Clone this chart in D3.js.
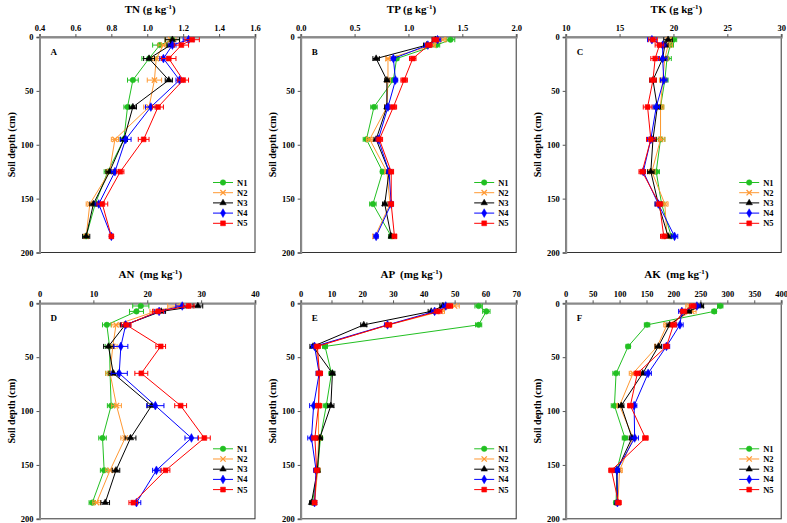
<!DOCTYPE html>
<html>
<head>
<meta charset="utf-8">
<script src="https://cdn.jsdelivr.net/npm/d3@7"></script>
<style>
  body { margin: 0; background: #fff; }
  text { font-family: "Liberation Serif", "Times New Roman", serif; font-weight: bold; }
</style>
</head>
<body>
<div id="chart"></div>
<script>
// depth midpoints (cm) and treatments
const depths = [2.5, 7.5, 20, 40, 65, 95, 125, 155, 185];
const series = ["N1", "N2", "N3", "N4", "N5"];
const colors = ["#22c022", "#ff9933", "#000000", "#0000ff", "#ff0000"];

// TN (g/kg), rows = N1..N5
const tnMean = [
  [1.14, 1.07, 1.01, 0.92, 0.89, 0.87, 0.78, 0.71, 0.66],
  [1.13, 1.09, 1.05, 1.04, 1.01, 0.82, 0.79, 0.68, 0.66],
  [1.14, 1.13, 1.01, 1.12, 0.92, 0.87, 0.79, 0.70, 0.66],
  [1.23, 1.14, 1.09, 1.18, 1.02, 0.88, 0.82, 0.73, 0.80],
  [1.25, 1.19, 1.12, 1.20, 1.06, 0.98, 0.85, 0.75, 0.80]
];
const tnErr = [
  [0.04, 0.04, 0.04, 0.03, 0.02, 0.02, 0.02, 0.01, 0.01],
  [0.03, 0.03, 0.02, 0.04, 0.03, 0.02, 0.02, 0.02, 0.01],
  [0.04, 0.02, 0.03, 0.02, 0.02, 0.02, 0.02, 0.02, 0.02],
  [0.03, 0.02, 0.02, 0.02, 0.03, 0.03, 0.02, 0.02, 0.01],
  [0.04, 0.04, 0.04, 0.03, 0.03, 0.03, 0.02, 0.03, 0.01]
];

// TP (g/kg)
const tpMean = [
  [1.39, 1.26, 0.89, 0.86, 0.68, 0.61, 0.76, 0.67, 0.84],
  [1.32, 1.23, 0.81, 0.81, 0.80, 0.64, 0.80, 0.83, 0.69],
  [1.25, 1.17, 0.70, 0.80, 0.80, 0.70, 0.82, 0.78, 0.84],
  [1.27, 1.18, 0.86, 0.88, 0.81, 0.72, 0.82, 0.84, 0.70],
  [1.25, 1.19, 1.04, 0.96, 0.86, 0.73, 0.84, 0.84, 0.87]
];
const tpErr = [
  [0.04, 0.03, 0.02, 0.02, 0.03, 0.03, 0.02, 0.03, 0.02],
  [0.03, 0.02, 0.02, 0.02, 0.02, 0.03, 0.02, 0.02, 0.02],
  [0.03, 0.03, 0.03, 0.02, 0.02, 0.02, 0.02, 0.02, 0.02],
  [0.03, 0.03, 0.02, 0.02, 0.02, 0.02, 0.02, 0.02, 0.02],
  [0.03, 0.03, 0.03, 0.03, 0.03, 0.03, 0.02, 0.02, 0.02]
];

// TK (g/kg)
const tkMean = [
  [20.0, 19.7, 19.4, 19.2, 18.8, 18.8, 18.4, 18.9, 19.8],
  [19.6, 19.5, 19.2, 19.0, 18.8, 18.8, 18.0, 19.2, 19.4],
  [19.5, 19.2, 19.0, 18.1, 18.5, 18.1, 17.9, 18.6, 19.5],
  [18.0, 19.0, 19.0, 19.1, 18.4, 17.9, 17.2, 18.6, 20.1],
  [18.1, 18.7, 18.3, 18.1, 17.6, 17.9, 17.1, 18.7, 19.1]
];
const tkErr = [
  [0.3, 0.3, 0.4, 0.3, 0.3, 0.4, 0.3, 0.3, 0.3],
  [0.3, 0.4, 0.3, 0.3, 0.3, 0.4, 0.3, 0.3, 0.3],
  [0.4, 0.3, 0.3, 0.3, 0.3, 0.3, 0.3, 0.3, 0.3],
  [0.4, 0.3, 0.4, 0.3, 0.3, 0.3, 0.2, 0.3, 0.3],
  [0.4, 0.4, 0.4, 0.3, 0.4, 0.4, 0.3, 0.3, 0.3]
];

// AN (mg/kg)
const anMean = [
  [18.8, 18.0, 12.5, 13.0, 13.1, 13.3, 11.7, 12.0, 9.8],
  [25.6, 21.5, 14.2, 13.6, 13.1, 14.3, 15.9, 13.1, 10.6],
  [29.4, 22.6, 15.9, 12.8, 13.7, 20.8, 16.9, 14.2, 12.2],
  [26.5, 22.2, 16.0, 15.1, 14.8, 21.5, 28.2, 21.7, 18.0],
  [27.7, 22.0, 16.1, 22.5, 18.9, 26.2, 30.6, 23.4, 17.4]
];
const anErr = [
  [1.5, 1.3, 0.8, 0.8, 0.8, 0.7, 0.7, 0.7, 0.6],
  [1.8, 1.0, 0.8, 0.8, 0.8, 0.9, 0.8, 0.8, 0.7],
  [0.9, 0.8, 0.9, 0.9, 0.8, 0.8, 1.0, 0.7, 0.8],
  [1.2, 0.9, 0.8, 1.3, 1.5, 1.6, 1.2, 0.7, 0.8],
  [1.0, 1.0, 0.9, 0.9, 1.2, 1.1, 1.1, 0.8, 0.8]
];

// AP (mg/kg)
const apMean = [
  [57.8, 60.3, 57.8, 7.9, 10.0, 8.3, 6.4, 5.5, 3.8],
  [50.0, 45.5, 28.6, 5.0, 6.0, 5.8, 5.8, 5.5, 4.5],
  [46.2, 42.4, 20.5, 4.0, 10.3, 9.8, 6.2, 5.4, 3.5],
  [47.1, 43.5, 28.2, 4.5, 6.0, 4.2, 3.5, 5.0, 4.5],
  [48.3, 44.6, 28.5, 5.4, 6.1, 5.8, 4.6, 5.2, 4.5]
];
const apErr = [
  [1.2, 1.2, 1.0, 0.8, 0.8, 1.0, 0.7, 0.6, 0.6],
  [1.5, 1.2, 1.0, 1.0, 1.0, 1.0, 0.8, 0.8, 0.6],
  [1.0, 1.0, 1.0, 1.0, 0.8, 1.0, 0.8, 0.8, 0.6],
  [1.0, 1.0, 1.0, 1.0, 1.0, 1.3, 1.2, 0.8, 0.7],
  [1.0, 1.2, 1.0, 1.0, 1.0, 1.0, 1.0, 0.8, 0.7]
];

// AK (mg/kg)
const akMean = [
  [286.8, 275.7, 151.0, 116.0, 93.5, 90.5, 110.0, 95.0, 93.5],
  [230.0, 234.0, 188.0, 170.0, 125.0, 100.0, 125.0, 100.0, 97.0],
  [251.0, 228.0, 193.0, 172.0, 143.0, 103.0, 123.0, 95.0, 96.0],
  [243.5, 215.6, 212.0, 187.0, 153.0, 127.0, 128.0, 95.0, 96.0],
  [236.0, 218.6, 200.0, 187.0, 133.0, 120.0, 148.0, 85.0, 98.0]
];
const akErr = [
  [5, 4, 5, 4, 6, 6, 5, 4, 4],
  [7, 8, 6, 5, 7, 5, 6, 5, 4],
  [5, 5, 5, 6, 6, 5, 5, 5, 4],
  [6, 6, 6, 6, 6, 5, 7, 5, 4],
  [6, 6, 6, 5, 6, 5, 5, 5, 5]
];

const panelLetters = ["A", "B", "C", "D", "E", "F"];
const panelNames = ["TN", "TP", "TK", "AN", "AP", "AK"];
const panelUnits = ["(g kg", "(g kg", "(g kg", " (mg kg", " (mg kg", " (mg kg"];
const xDomains = [[0.4, 1.6], [0, 2], [10, 30], [0, 40], [0, 70], [0, 400]];
const xTicks = [
  [0.4, 0.6, 0.8, 1.0, 1.2, 1.4, 1.6],
  [0, 0.5, 1.0, 1.5, 2.0],
  [10, 15, 20, 25, 30],
  [0, 10, 20, 30, 40],
  [0, 10, 20, 30, 40, 50, 60, 70],
  [0, 50, 100, 150, 200, 250, 300, 350, 400]
];
const xFormats = [".1f", ".1f", "d", "d", "d", "d"];
const yTicks = [0, 50, 100, 150, 200];
const means = [tnMean, tpMean, tkMean, anMean, apMean, akMean];
const errs = [tnErr, tpErr, tkErr, anErr, apErr, akErr];

const W = 787, H = 523;
const colLeft = [39.5, 300.7, 565.7];
const rowTop = [37, 303.3];
const pw = 215.5, ph = 215.5;

const svg = d3.select("#chart").append("svg")
  .attr("width", W)
  .attr("height", H);

const symbols = [d3.symbolCircle, d3.symbolTimes, d3.symbolTriangle, d3.symbolDiamond, d3.symbolSquare];
const symSizes = [24, 20, 18, 22, 24];

function drawMarker(g, i, x, y) {
  g.append("path")
    .attr("d", d3.symbol().type(symbols[i]).size(symSizes[i])())
    .attr("transform", `translate(${x},${y})`)
    .attr("fill", colors[i])
    .attr("stroke", colors[i])
    .attr("stroke-width", i === 1 ? 1.3 : 0.5);
}

panelNames.forEach((name, p) => {
  const col = p % 3, row = Math.floor(p / 3);
  const g = svg.append("g")
    .attr("transform", `translate(${colLeft[col]},${rowTop[row]})`);

  const x = d3.scaleLinear().domain(xDomains[p]).range([0, pw]);
  const y = d3.scaleLinear().domain([0, 200]).range([0, ph]);

  // frame (right + bottom)
  g.append("rect")
    .attr("width", pw).attr("height", ph)
    .attr("fill", "none")
    .attr("stroke", "#333")
    .attr("stroke-width", 1);

  // top axis
  const xa = g.append("g")
    .call(d3.axisTop(x).tickValues(xTicks[p]).tickFormat(d3.format(xFormats[p])).tickSize(3).tickPadding(3));
  xa.select(".domain").attr("stroke", "#8a8a8a").attr("stroke-width", 2);
  xa.selectAll(".tick line").attr("stroke", "#555");
  xa.selectAll("text").attr("font-size", 8.5).attr("fill", "#000");

  // left axis
  const ya = g.append("g")
    .call(d3.axisLeft(y).tickValues(yTicks).tickSize(3).tickPadding(3));
  ya.select(".domain").attr("stroke", "#8a8a8a").attr("stroke-width", 2);
  ya.selectAll(".tick line").attr("stroke", "#555");
  ya.selectAll("text").attr("font-size", 8.5).attr("fill", "#000");

  // title
  const t = g.append("text")
    .attr("x", pw / 2 + 3)
    .attr("y", row === 0 ? -24 : -25)
    .attr("text-anchor", "middle")
    .attr("font-size", 11)
    .attr("xml:space", "preserve");
  t.append("tspan").text(name + " " + panelUnits[p]);
  t.append("tspan").attr("font-size", 7).attr("dy", -4).text("-1");
  t.append("tspan").attr("dy", 4).text(")");

  // y label
  g.append("text")
    .attr("transform", `translate(-25,${ph / 2}) rotate(-90)`)
    .attr("text-anchor", "middle")
    .attr("font-size", 10)
    .text("Soil depth (cm)");

  // panel letter
  g.append("text")
    .attr("x", 11).attr("y", 18)
    .attr("font-size", 9)
    .text(panelLetters[p]);

  // series
  series.forEach((s, i) => {
    const pts = depths.map((d, k) => ({ d, v: means[p][i][k], e: errs[p][i][k] }));
    const sg = g.append("g");
    sg.append("path")
      .datum(pts)
      .attr("fill", "none")
      .attr("stroke", colors[i])
      .attr("stroke-width", 1)
      .attr("d", d3.line().x(q => x(q.v)).y(q => y(q.d)));

    pts.forEach(q => {
      const yy = y(q.d);
      sg.append("line")
        .attr("x1", x(q.v - q.e)).attr("x2", x(q.v + q.e))
        .attr("y1", yy).attr("y2", yy)
        .attr("stroke", colors[i]).attr("stroke-width", 1);
      [q.v - q.e, q.v + q.e].forEach(c => {
        sg.append("line")
          .attr("x1", x(c)).attr("x2", x(c))
          .attr("y1", yy - 2.5).attr("y2", yy + 2.5)
          .attr("stroke", colors[i]).attr("stroke-width", 1);
      });
      drawMarker(sg, i, x(q.v), yy);
    });
  });

  // legend
  const lg = g.append("g").attr("transform", `translate(${pw - 42},${ph - 70})`);
  series.forEach((s, i) => {
    const ly = i * 10.2;
    lg.append("line")
      .attr("x1", 0).attr("x2", 20)
      .attr("y1", ly).attr("y2", ly)
      .attr("stroke", colors[i]).attr("stroke-width", 1);
    drawMarker(lg, i, 10, ly);
    lg.append("text")
      .attr("x", 24).attr("y", ly + 3)
      .attr("font-size", 8.5)
      .text(s);
  });
});
</script>
</body>
</html>
